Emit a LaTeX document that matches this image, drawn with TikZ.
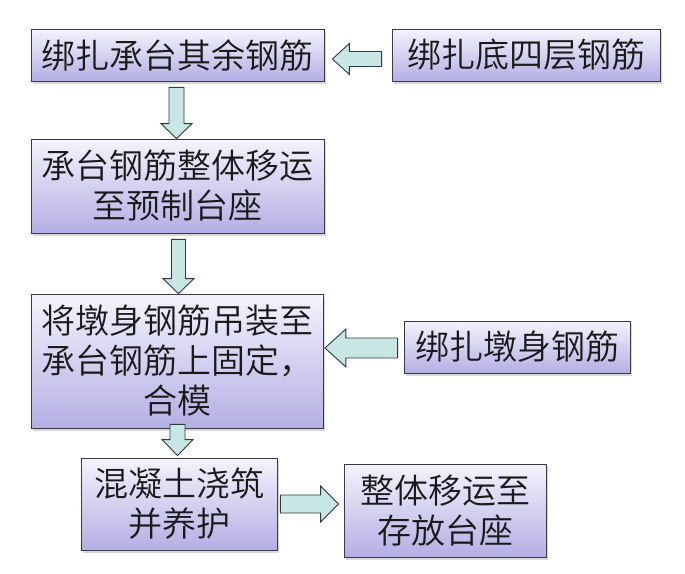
\documentclass[tikz,border=0pt]{standalone}
\usepackage{fontspec}
\newfontfamily\cjk{Noto Sans CJK SC DemiLight}
\usetikzlibrary{calc,shadows}
\definecolor{boxtop}{HTML}{F4F3FC}
\definecolor{boxbot}{HTML}{B4AFE4}
\definecolor{arrfill}{HTML}{C7E6E4}
\definecolor{arrline}{HTML}{2F3A3A}
\definecolor{boxline}{HTML}{3A3A4A}
\definecolor{txt}{HTML}{1A1A1A}
\tikzset{
  stepbox/.style={draw=boxline, line width=0.8pt, top color=boxtop, bottom color=boxbot,
    drop shadow={shadow xshift=2pt, shadow yshift=-2.5pt, opacity=0.3},
    inner sep=0pt, align=center, text=txt,
    font=\cjk\fontsize{34}{40}\selectfont},
  blockarrow/.style={draw=arrline, line width=0.9pt, fill=arrfill, line join=miter}
}
\begin{document}
\begin{tikzpicture}[x=1pt,y=-1pt]
\useasboundingbox[fill=white] (0,0) rectangle (685,573);
% boxes
\node[stepbox, minimum width=293pt, minimum height=52pt] (b1) at (177.5,55) {绑扎承台其余钢筋};
\node[stepbox, minimum width=268pt, minimum height=52pt] (b2) at (526,55) {绑扎底四层钢筋};
\node[stepbox, minimum width=293pt, minimum height=94pt] (b3) at (177.5,186) {承台钢筋整体移运\\至预制台座};
\node[stepbox, minimum width=292pt, minimum height=134pt] (b4) at (177,361) {将墩身钢筋吊装至\\承台钢筋上固定，\\合模};
\node[stepbox, minimum width=226pt, minimum height=52pt] (b5) at (517,347) {绑扎墩身钢筋};
\node[stepbox, minimum width=196pt, minimum height=92pt] (b6) at (179,504) {混凝土浇筑\\并养护};
\node[stepbox, minimum width=202pt, minimum height=93pt] (b7) at (445,510.5) {整体移运至\\存放台座};
% down arrows
\draw[blockarrow] let \p1=($(b1.south)+(-1,6)$), \p2=($(b3.north)+(-1,0)$) in
  (\x1-7.5pt,\y1) -- (\x1+7.5pt,\y1) -- (\x1+7.5pt,\y2+15pt) -- (\x1+15.5pt,\y2+15pt)
  -- (\x1,\y2) -- (\x1-15.5pt,\y2+15pt) -- (\x1-7.5pt,\y2+15pt) -- cycle;
\draw[blockarrow] let \p1=($(b3.south)+(1,6)$), \p2=($(b4.north)+(1,0)$) in
  (\x1-7pt,\y1) -- (\x1+7pt,\y1) -- (\x1+7pt,\y2+15pt) -- (\x1+15.5pt,\y2+15pt)
  -- (\x1,\y2) -- (\x1-15.5pt,\y2+15pt) -- (\x1-7pt,\y2+15pt) -- cycle;
\draw[blockarrow] let \p1=($(b4.south)+(0,-4)$), \p2=($(b6.north)+(-1.5,-2)$) in
  (\x2-7.5pt,\y1) -- (\x2+7.5pt,\y1) -- (\x2+7.5pt,\y2+16pt) -- (\x2+15.5pt,\y2+16pt)
  -- (\x2,\y2) -- (\x2-15.5pt,\y2+16pt) -- (\x2-7.5pt,\y2+16pt) -- cycle;
% left arrows
\draw[blockarrow] let \p1=($(b2.west)+(-10,4)$), \p2=($(b1.east)+(8,4)$) in
  (\x1,\y1+7.5pt) -- (\x2+17pt,\y1+7.5pt) -- (\x2+17pt,\y1+15.5pt) -- (\x2,\y1)
  -- (\x2+17pt,\y1-15.5pt) -- (\x2+17pt,\y1-7.5pt) -- (\x1,\y1-7.5pt) -- cycle;
\draw[blockarrow] let \p1=($(b5.west)+(-6,1)$), \p2=($(b4.east)+(1.5,1)$) in
  (\x1,\y1+10pt) -- (\x2+21pt,\y1+10pt) -- (\x2+21pt,\y1+19pt) -- (\x2,\y1)
  -- (\x2+21pt,\y1-19pt) -- (\x2+21pt,\y1-10pt) -- (\x1,\y1-10pt) -- cycle;
% right arrow
\draw[blockarrow] let \p1=($(b6.east)+(3,0)$), \p2=($(b7.west)+(-5,-6.5)$) in
  (\x1,\y1+9pt) -- (\x2-18pt,\y1+9pt) -- (\x2-18pt,\y1+18pt) -- (\x2,\y1)
  -- (\x2-18pt,\y1-18pt) -- (\x2-18pt,\y1-9pt) -- (\x1,\y1-9pt) -- cycle;
\end{tikzpicture}
\end{document}
